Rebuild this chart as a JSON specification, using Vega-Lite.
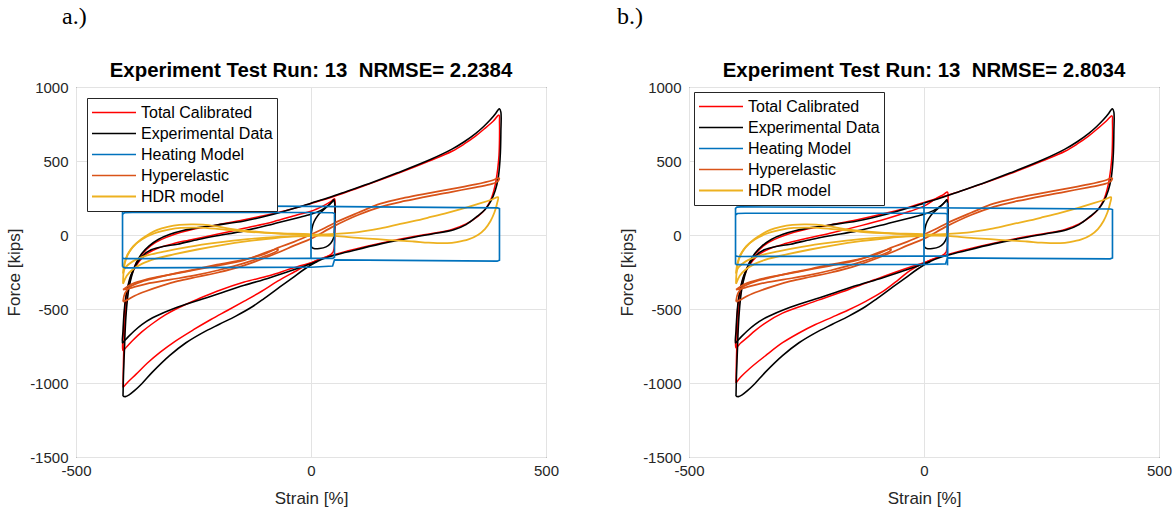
{
"$schema":"https://vega.github.io/schema/vega-lite/v6.json",
"background":"white",
"padding":{"left":5,"top":5,"right":5,"bottom":0},
"data":{"name":"d"},
"datasets":{"d":[
{"p":"a","s":"Total Calibrated","g":1,"x":-400,"y":-1030},{"p":"a","s":"Total Calibrated","g":1,"x":-399,"y":-850},{"p":"a","s":"Total Calibrated","g":1,"x":-397,"y":-660},{"p":"a","s":"Total Calibrated","g":1,"x":-394,"y":-500},{"p":"a","s":"Total Calibrated","g":1,"x":-389,"y":-370},{"p":"a","s":"Total Calibrated","g":1,"x":-382,"y":-270},{"p":"a","s":"Total Calibrated","g":1,"x":-372,"y":-190},{"p":"a","s":"Total Calibrated","g":1,"x":-358,"y":-125},{"p":"a","s":"Total Calibrated","g":1,"x":-340,"y":-70},{"p":"a","s":"Total Calibrated","g":1,"x":-318,"y":-30},{"p":"a","s":"Total Calibrated","g":1,"x":-290,"y":5},{"p":"a","s":"Total Calibrated","g":1,"x":-255,"y":35},{"p":"a","s":"Total Calibrated","g":1,"x":-200,"y":68},{"p":"a","s":"Total Calibrated","g":1,"x":-142,"y":103},{"p":"a","s":"Total Calibrated","g":1,"x":-80,"y":145},{"p":"a","s":"Total Calibrated","g":1,"x":-30,"y":185},{"p":"a","s":"Total Calibrated","g":1,"x":0,"y":213},{"p":"a","s":"Total Calibrated","g":1,"x":50,"y":262},{"p":"a","s":"Total Calibrated","g":1,"x":100,"y":318},{"p":"a","s":"Total Calibrated","g":1,"x":184,"y":415},{"p":"a","s":"Total Calibrated","g":1,"x":254,"y":503},{"p":"a","s":"Total Calibrated","g":1,"x":300,"y":566},{"p":"a","s":"Total Calibrated","g":1,"x":326,"y":615},{"p":"a","s":"Total Calibrated","g":1,"x":350,"y":668},{"p":"a","s":"Total Calibrated","g":1,"x":370,"y":720},{"p":"a","s":"Total Calibrated","g":1,"x":388,"y":770},{"p":"a","s":"Total Calibrated","g":1,"x":400,"y":810},{"p":"a","s":"Total Calibrated","g":1,"x":401,"y":760},{"p":"a","s":"Total Calibrated","g":1,"x":401,"y":640},{"p":"a","s":"Total Calibrated","g":1,"x":400,"y":540},{"p":"a","s":"Total Calibrated","g":1,"x":397,"y":440},{"p":"a","s":"Total Calibrated","g":1,"x":392,"y":340},{"p":"a","s":"Total Calibrated","g":1,"x":384,"y":250},{"p":"a","s":"Total Calibrated","g":1,"x":372,"y":180},{"p":"a","s":"Total Calibrated","g":1,"x":355,"y":125},{"p":"a","s":"Total Calibrated","g":1,"x":330,"y":75},{"p":"a","s":"Total Calibrated","g":1,"x":300,"y":38},{"p":"a","s":"Total Calibrated","g":1,"x":260,"y":12},{"p":"a","s":"Total Calibrated","g":1,"x":219,"y":-10},{"p":"a","s":"Total Calibrated","g":1,"x":148,"y":-55},{"p":"a","s":"Total Calibrated","g":1,"x":77,"y":-108},{"p":"a","s":"Total Calibrated","g":1,"x":30,"y":-150},{"p":"a","s":"Total Calibrated","g":1,"x":0,"y":-188},{"p":"a","s":"Total Calibrated","g":1,"x":-36,"y":-250},{"p":"a","s":"Total Calibrated","g":1,"x":-71,"y":-312},{"p":"a","s":"Total Calibrated","g":1,"x":-105,"y":-380},{"p":"a","s":"Total Calibrated","g":1,"x":-142,"y":-447},{"p":"a","s":"Total Calibrated","g":1,"x":-178,"y":-510},{"p":"a","s":"Total Calibrated","g":1,"x":-213,"y":-571},{"p":"a","s":"Total Calibrated","g":1,"x":-250,"y":-640},{"p":"a","s":"Total Calibrated","g":1,"x":-290,"y":-720},{"p":"a","s":"Total Calibrated","g":1,"x":-320,"y":-790},{"p":"a","s":"Total Calibrated","g":1,"x":-348,"y":-865},{"p":"a","s":"Total Calibrated","g":1,"x":-372,"y":-940},{"p":"a","s":"Total Calibrated","g":1,"x":-390,"y":-995},{"p":"a","s":"Total Calibrated","g":1,"x":-400,"y":-1030},
{"p":"a","s":"Total Calibrated","g":2,"x":0,"y":-188},{"p":"a","s":"Total Calibrated","g":2,"x":-40,"y":-225},{"p":"a","s":"Total Calibrated","g":2,"x":-89,"y":-275},{"p":"a","s":"Total Calibrated","g":2,"x":-142,"y":-318},{"p":"a","s":"Total Calibrated","g":2,"x":-200,"y":-380},{"p":"a","s":"Total Calibrated","g":2,"x":-240,"y":-432},{"p":"a","s":"Total Calibrated","g":2,"x":-284,"y":-495},{"p":"a","s":"Total Calibrated","g":2,"x":-310,"y":-540},{"p":"a","s":"Total Calibrated","g":2,"x":-337,"y":-598},{"p":"a","s":"Total Calibrated","g":2,"x":-360,"y":-655},{"p":"a","s":"Total Calibrated","g":2,"x":-380,"y":-715},{"p":"a","s":"Total Calibrated","g":2,"x":-392,"y":-755},{"p":"a","s":"Total Calibrated","g":2,"x":-400,"y":-780},{"p":"a","s":"Total Calibrated","g":2,"x":-399,"y":-650},{"p":"a","s":"Total Calibrated","g":2,"x":-397,"y":-520},{"p":"a","s":"Total Calibrated","g":2,"x":-393,"y":-410},{"p":"a","s":"Total Calibrated","g":2,"x":-387,"y":-320},{"p":"a","s":"Total Calibrated","g":2,"x":-378,"y":-240},{"p":"a","s":"Total Calibrated","g":2,"x":-365,"y":-175},{"p":"a","s":"Total Calibrated","g":2,"x":-348,"y":-125},{"p":"a","s":"Total Calibrated","g":2,"x":-325,"y":-88},{"p":"a","s":"Total Calibrated","g":2,"x":-295,"y":-60},{"p":"a","s":"Total Calibrated","g":2,"x":-260,"y":-35},{"p":"a","s":"Total Calibrated","g":2,"x":-200,"y":5},{"p":"a","s":"Total Calibrated","g":2,"x":-142,"y":45},{"p":"a","s":"Total Calibrated","g":2,"x":-80,"y":90},{"p":"a","s":"Total Calibrated","g":2,"x":-30,"y":135},{"p":"a","s":"Total Calibrated","g":2,"x":0,"y":160},{"p":"a","s":"Total Calibrated","g":2,"x":25,"y":195},{"p":"a","s":"Total Calibrated","g":2,"x":42,"y":225},{"p":"a","s":"Total Calibrated","g":2,"x":50,"y":245},{"p":"a","s":"Total Calibrated","g":2,"x":51,"y":180},{"p":"a","s":"Total Calibrated","g":2,"x":51,"y":60},{"p":"a","s":"Total Calibrated","g":2,"x":50,"y":-60},{"p":"a","s":"Total Calibrated","g":2,"x":47,"y":-115},{"p":"a","s":"Total Calibrated","g":2,"x":35,"y":-145},{"p":"a","s":"Total Calibrated","g":2,"x":15,"y":-168},{"p":"a","s":"Total Calibrated","g":2,"x":0,"y":-188},
{"p":"b","s":"Total Calibrated","g":1,"x":-400,"y":-1000},{"p":"b","s":"Total Calibrated","g":1,"x":-399,"y":-830},{"p":"b","s":"Total Calibrated","g":1,"x":-397,"y":-650},{"p":"b","s":"Total Calibrated","g":1,"x":-394,"y":-500},{"p":"b","s":"Total Calibrated","g":1,"x":-389,"y":-370},{"p":"b","s":"Total Calibrated","g":1,"x":-382,"y":-270},{"p":"b","s":"Total Calibrated","g":1,"x":-372,"y":-190},{"p":"b","s":"Total Calibrated","g":1,"x":-358,"y":-125},{"p":"b","s":"Total Calibrated","g":1,"x":-340,"y":-70},{"p":"b","s":"Total Calibrated","g":1,"x":-318,"y":-30},{"p":"b","s":"Total Calibrated","g":1,"x":-290,"y":5},{"p":"b","s":"Total Calibrated","g":1,"x":-255,"y":35},{"p":"b","s":"Total Calibrated","g":1,"x":-200,"y":68},{"p":"b","s":"Total Calibrated","g":1,"x":-142,"y":103},{"p":"b","s":"Total Calibrated","g":1,"x":-80,"y":148},{"p":"b","s":"Total Calibrated","g":1,"x":-30,"y":190},{"p":"b","s":"Total Calibrated","g":1,"x":0,"y":220},{"p":"b","s":"Total Calibrated","g":1,"x":50,"y":268},{"p":"b","s":"Total Calibrated","g":1,"x":100,"y":320},{"p":"b","s":"Total Calibrated","g":1,"x":184,"y":415},{"p":"b","s":"Total Calibrated","g":1,"x":254,"y":503},{"p":"b","s":"Total Calibrated","g":1,"x":300,"y":566},{"p":"b","s":"Total Calibrated","g":1,"x":326,"y":615},{"p":"b","s":"Total Calibrated","g":1,"x":350,"y":668},{"p":"b","s":"Total Calibrated","g":1,"x":370,"y":720},{"p":"b","s":"Total Calibrated","g":1,"x":388,"y":770},{"p":"b","s":"Total Calibrated","g":1,"x":400,"y":805},{"p":"b","s":"Total Calibrated","g":1,"x":401,"y":760},{"p":"b","s":"Total Calibrated","g":1,"x":401,"y":640},{"p":"b","s":"Total Calibrated","g":1,"x":400,"y":540},{"p":"b","s":"Total Calibrated","g":1,"x":397,"y":440},{"p":"b","s":"Total Calibrated","g":1,"x":392,"y":340},{"p":"b","s":"Total Calibrated","g":1,"x":384,"y":250},{"p":"b","s":"Total Calibrated","g":1,"x":372,"y":180},{"p":"b","s":"Total Calibrated","g":1,"x":355,"y":125},{"p":"b","s":"Total Calibrated","g":1,"x":330,"y":75},{"p":"b","s":"Total Calibrated","g":1,"x":300,"y":38},{"p":"b","s":"Total Calibrated","g":1,"x":260,"y":12},{"p":"b","s":"Total Calibrated","g":1,"x":219,"y":-10},{"p":"b","s":"Total Calibrated","g":1,"x":148,"y":-55},{"p":"b","s":"Total Calibrated","g":1,"x":77,"y":-108},{"p":"b","s":"Total Calibrated","g":1,"x":30,"y":-150},{"p":"b","s":"Total Calibrated","g":1,"x":0,"y":-188},{"p":"b","s":"Total Calibrated","g":1,"x":-30,"y":-240},{"p":"b","s":"Total Calibrated","g":1,"x":-54,"y":-301},{"p":"b","s":"Total Calibrated","g":1,"x":-89,"y":-385},{"p":"b","s":"Total Calibrated","g":1,"x":-125,"y":-450},{"p":"b","s":"Total Calibrated","g":1,"x":-160,"y":-505},{"p":"b","s":"Total Calibrated","g":1,"x":-195,"y":-555},{"p":"b","s":"Total Calibrated","g":1,"x":-231,"y":-605},{"p":"b","s":"Total Calibrated","g":1,"x":-266,"y":-662},{"p":"b","s":"Total Calibrated","g":1,"x":-301,"y":-728},{"p":"b","s":"Total Calibrated","g":1,"x":-337,"y":-815},{"p":"b","s":"Total Calibrated","g":1,"x":-372,"y":-905},{"p":"b","s":"Total Calibrated","g":1,"x":-390,"y":-960},{"p":"b","s":"Total Calibrated","g":1,"x":-400,"y":-1000},
{"p":"b","s":"Total Calibrated","g":2,"x":0,"y":-188},{"p":"b","s":"Total Calibrated","g":2,"x":-40,"y":-228},{"p":"b","s":"Total Calibrated","g":2,"x":-104,"y":-301},{"p":"b","s":"Total Calibrated","g":2,"x":-160,"y":-368},{"p":"b","s":"Total Calibrated","g":2,"x":-231,"y":-447},{"p":"b","s":"Total Calibrated","g":2,"x":-301,"y":-528},{"p":"b","s":"Total Calibrated","g":2,"x":-337,"y":-593},{"p":"b","s":"Total Calibrated","g":2,"x":-360,"y":-648},{"p":"b","s":"Total Calibrated","g":2,"x":-375,"y":-690},{"p":"b","s":"Total Calibrated","g":2,"x":-390,"y":-730},{"p":"b","s":"Total Calibrated","g":2,"x":-400,"y":-762},{"p":"b","s":"Total Calibrated","g":2,"x":-399,"y":-640},{"p":"b","s":"Total Calibrated","g":2,"x":-397,"y":-515},{"p":"b","s":"Total Calibrated","g":2,"x":-393,"y":-405},{"p":"b","s":"Total Calibrated","g":2,"x":-387,"y":-318},{"p":"b","s":"Total Calibrated","g":2,"x":-378,"y":-240},{"p":"b","s":"Total Calibrated","g":2,"x":-365,"y":-175},{"p":"b","s":"Total Calibrated","g":2,"x":-348,"y":-125},{"p":"b","s":"Total Calibrated","g":2,"x":-325,"y":-88},{"p":"b","s":"Total Calibrated","g":2,"x":-295,"y":-58},{"p":"b","s":"Total Calibrated","g":2,"x":-260,"y":-30},{"p":"b","s":"Total Calibrated","g":2,"x":-200,"y":12},{"p":"b","s":"Total Calibrated","g":2,"x":-132,"y":65},{"p":"b","s":"Total Calibrated","g":2,"x":-80,"y":110},{"p":"b","s":"Total Calibrated","g":2,"x":-30,"y":160},{"p":"b","s":"Total Calibrated","g":2,"x":0,"y":195},{"p":"b","s":"Total Calibrated","g":2,"x":25,"y":245},{"p":"b","s":"Total Calibrated","g":2,"x":42,"y":275},{"p":"b","s":"Total Calibrated","g":2,"x":50,"y":290},{"p":"b","s":"Total Calibrated","g":2,"x":51,"y":220},{"p":"b","s":"Total Calibrated","g":2,"x":51,"y":80},{"p":"b","s":"Total Calibrated","g":2,"x":50,"y":-60},{"p":"b","s":"Total Calibrated","g":2,"x":47,"y":-115},{"p":"b","s":"Total Calibrated","g":2,"x":35,"y":-145},{"p":"b","s":"Total Calibrated","g":2,"x":15,"y":-168},{"p":"b","s":"Total Calibrated","g":2,"x":0,"y":-188},
{"p":"ab","s":"Experimental Data","g":1,"x":-400,"y":-1090},{"p":"ab","s":"Experimental Data","g":1,"x":-399,"y":-950},{"p":"ab","s":"Experimental Data","g":1,"x":-397,"y":-780},{"p":"ab","s":"Experimental Data","g":1,"x":-395,"y":-620},{"p":"ab","s":"Experimental Data","g":1,"x":-392,"y":-480},{"p":"ab","s":"Experimental Data","g":1,"x":-388,"y":-370},{"p":"ab","s":"Experimental Data","g":1,"x":-381,"y":-270},{"p":"ab","s":"Experimental Data","g":1,"x":-372,"y":-190},{"p":"ab","s":"Experimental Data","g":1,"x":-360,"y":-125},{"p":"ab","s":"Experimental Data","g":1,"x":-345,"y":-75},{"p":"ab","s":"Experimental Data","g":1,"x":-325,"y":-30},{"p":"ab","s":"Experimental Data","g":1,"x":-300,"y":5},{"p":"ab","s":"Experimental Data","g":1,"x":-270,"y":32},{"p":"ab","s":"Experimental Data","g":1,"x":-240,"y":50},{"p":"ab","s":"Experimental Data","g":1,"x":-200,"y":68},{"p":"ab","s":"Experimental Data","g":1,"x":-142,"y":95},{"p":"ab","s":"Experimental Data","g":1,"x":-80,"y":140},{"p":"ab","s":"Experimental Data","g":1,"x":-30,"y":185},{"p":"ab","s":"Experimental Data","g":1,"x":0,"y":215},{"p":"ab","s":"Experimental Data","g":1,"x":40,"y":255},{"p":"ab","s":"Experimental Data","g":1,"x":77,"y":296},{"p":"ab","s":"Experimental Data","g":1,"x":130,"y":355},{"p":"ab","s":"Experimental Data","g":1,"x":184,"y":420},{"p":"ab","s":"Experimental Data","g":1,"x":254,"y":510},{"p":"ab","s":"Experimental Data","g":1,"x":300,"y":580},{"p":"ab","s":"Experimental Data","g":1,"x":326,"y":630},{"p":"ab","s":"Experimental Data","g":1,"x":350,"y":685},{"p":"ab","s":"Experimental Data","g":1,"x":368,"y":735},{"p":"ab","s":"Experimental Data","g":1,"x":382,"y":780},{"p":"ab","s":"Experimental Data","g":1,"x":392,"y":818},{"p":"ab","s":"Experimental Data","g":1,"x":398,"y":845},{"p":"ab","s":"Experimental Data","g":1,"x":401,"y":853},{"p":"ab","s":"Experimental Data","g":1,"x":404,"y":830},{"p":"ab","s":"Experimental Data","g":1,"x":404,"y":700},{"p":"ab","s":"Experimental Data","g":1,"x":403,"y":560},{"p":"ab","s":"Experimental Data","g":1,"x":401,"y":460},{"p":"ab","s":"Experimental Data","g":1,"x":398,"y":380},{"p":"ab","s":"Experimental Data","g":1,"x":392,"y":300},{"p":"ab","s":"Experimental Data","g":1,"x":383,"y":230},{"p":"ab","s":"Experimental Data","g":1,"x":370,"y":170},{"p":"ab","s":"Experimental Data","g":1,"x":354,"y":127},{"p":"ab","s":"Experimental Data","g":1,"x":330,"y":70},{"p":"ab","s":"Experimental Data","g":1,"x":304,"y":35},{"p":"ab","s":"Experimental Data","g":1,"x":260,"y":8},{"p":"ab","s":"Experimental Data","g":1,"x":219,"y":-15},{"p":"ab","s":"Experimental Data","g":1,"x":148,"y":-60},{"p":"ab","s":"Experimental Data","g":1,"x":77,"y":-115},{"p":"ab","s":"Experimental Data","g":1,"x":40,"y":-145},{"p":"ab","s":"Experimental Data","g":1,"x":14,"y":-177},{"p":"ab","s":"Experimental Data","g":1,"x":-15,"y":-233},{"p":"ab","s":"Experimental Data","g":1,"x":-40,"y":-292},{"p":"ab","s":"Experimental Data","g":1,"x":-71,"y":-362},{"p":"ab","s":"Experimental Data","g":1,"x":-100,"y":-430},{"p":"ab","s":"Experimental Data","g":1,"x":-125,"y":-485},{"p":"ab","s":"Experimental Data","g":1,"x":-160,"y":-548},{"p":"ab","s":"Experimental Data","g":1,"x":-195,"y":-603},{"p":"ab","s":"Experimental Data","g":1,"x":-231,"y":-661},{"p":"ab","s":"Experimental Data","g":1,"x":-266,"y":-728},{"p":"ab","s":"Experimental Data","g":1,"x":-301,"y":-815},{"p":"ab","s":"Experimental Data","g":1,"x":-337,"y":-925},{"p":"ab","s":"Experimental Data","g":1,"x":-360,"y":-1005},{"p":"ab","s":"Experimental Data","g":1,"x":-375,"y":-1050},{"p":"ab","s":"Experimental Data","g":1,"x":-387,"y":-1080},{"p":"ab","s":"Experimental Data","g":1,"x":-395,"y":-1092},{"p":"ab","s":"Experimental Data","g":1,"x":-400,"y":-1090},
{"p":"ab","s":"Experimental Data","g":2,"x":14,"y":-177},{"p":"ab","s":"Experimental Data","g":2,"x":-10,"y":-205},{"p":"ab","s":"Experimental Data","g":2,"x":-40,"y":-238},{"p":"ab","s":"Experimental Data","g":2,"x":-89,"y":-290},{"p":"ab","s":"Experimental Data","g":2,"x":-142,"y":-340},{"p":"ab","s":"Experimental Data","g":2,"x":-195,"y":-395},{"p":"ab","s":"Experimental Data","g":2,"x":-231,"y":-433},{"p":"ab","s":"Experimental Data","g":2,"x":-266,"y":-468},{"p":"ab","s":"Experimental Data","g":2,"x":-301,"y":-508},{"p":"ab","s":"Experimental Data","g":2,"x":-337,"y":-559},{"p":"ab","s":"Experimental Data","g":2,"x":-360,"y":-605},{"p":"ab","s":"Experimental Data","g":2,"x":-375,"y":-645},{"p":"ab","s":"Experimental Data","g":2,"x":-388,"y":-685},{"p":"ab","s":"Experimental Data","g":2,"x":-397,"y":-715},{"p":"ab","s":"Experimental Data","g":2,"x":-401,"y":-729},{"p":"ab","s":"Experimental Data","g":2,"x":-400,"y":-650},{"p":"ab","s":"Experimental Data","g":2,"x":-398,"y":-540},{"p":"ab","s":"Experimental Data","g":2,"x":-395,"y":-440},{"p":"ab","s":"Experimental Data","g":2,"x":-390,"y":-350},{"p":"ab","s":"Experimental Data","g":2,"x":-383,"y":-270},{"p":"ab","s":"Experimental Data","g":2,"x":-372,"y":-200},{"p":"ab","s":"Experimental Data","g":2,"x":-358,"y":-140},{"p":"ab","s":"Experimental Data","g":2,"x":-340,"y":-100},{"p":"ab","s":"Experimental Data","g":2,"x":-315,"y":-78},{"p":"ab","s":"Experimental Data","g":2,"x":-284,"y":-62},{"p":"ab","s":"Experimental Data","g":2,"x":-240,"y":-30},{"p":"ab","s":"Experimental Data","g":2,"x":-200,"y":-5},{"p":"ab","s":"Experimental Data","g":2,"x":-142,"y":28},{"p":"ab","s":"Experimental Data","g":2,"x":-80,"y":75},{"p":"ab","s":"Experimental Data","g":2,"x":-30,"y":115},{"p":"ab","s":"Experimental Data","g":2,"x":0,"y":140},{"p":"ab","s":"Experimental Data","g":2,"x":20,"y":165},{"p":"ab","s":"Experimental Data","g":2,"x":35,"y":195},{"p":"ab","s":"Experimental Data","g":2,"x":45,"y":225},{"p":"ab","s":"Experimental Data","g":2,"x":49,"y":240},
{"p":"ab","s":"Experimental Data","g":3,"x":49,"y":240},{"p":"ab","s":"Experimental Data","g":3,"x":51,"y":200},{"p":"ab","s":"Experimental Data","g":3,"x":51,"y":120},{"p":"ab","s":"Experimental Data","g":3,"x":50,"y":40},{"p":"ab","s":"Experimental Data","g":3,"x":48,"y":-20},{"p":"ab","s":"Experimental Data","g":3,"x":42,"y":-55},{"p":"ab","s":"Experimental Data","g":3,"x":32,"y":-80},{"p":"ab","s":"Experimental Data","g":3,"x":18,"y":-91},{"p":"ab","s":"Experimental Data","g":3,"x":6,"y":-91},{"p":"ab","s":"Experimental Data","g":3,"x":1,"y":-80},{"p":"ab","s":"Experimental Data","g":3,"x":0,"y":-40},{"p":"ab","s":"Experimental Data","g":3,"x":1,"y":20},{"p":"ab","s":"Experimental Data","g":3,"x":4,"y":70},{"p":"ab","s":"Experimental Data","g":3,"x":10,"y":110},{"p":"ab","s":"Experimental Data","g":3,"x":18,"y":145},{"p":"ab","s":"Experimental Data","g":3,"x":30,"y":180},{"p":"ab","s":"Experimental Data","g":3,"x":42,"y":215},{"p":"ab","s":"Experimental Data","g":3,"x":49,"y":240},
{"p":"a","s":"Heating Model","g":1,"x":-401,"y":-215},{"p":"a","s":"Heating Model","g":1,"x":-401,"y":140},{"p":"a","s":"Heating Model","g":1,"x":-397,"y":150},{"p":"a","s":"Heating Model","g":1,"x":-380,"y":152},{"p":"a","s":"Heating Model","g":1,"x":0,"y":152},{"p":"a","s":"Heating Model","g":1,"x":46,"y":150},{"p":"a","s":"Heating Model","g":1,"x":50,"y":145},{"p":"a","s":"Heating Model","g":1,"x":50,"y":-150},{"p":"a","s":"Heating Model","g":1,"x":46,"y":-158},{"p":"a","s":"Heating Model","g":1,"x":0,"y":-158},{"p":"a","s":"Heating Model","g":1,"x":-396,"y":-160},{"p":"a","s":"Heating Model","g":1,"x":-401,"y":-155},{"p":"a","s":"Heating Model","g":1,"x":-401,"y":180},{"p":"a","s":"Heating Model","g":1,"x":-398,"y":195},{"p":"a","s":"Heating Model","g":1,"x":-390,"y":200},{"p":"a","s":"Heating Model","g":1,"x":0,"y":193},{"p":"a","s":"Heating Model","g":1,"x":397,"y":183},{"p":"a","s":"Heating Model","g":1,"x":401,"y":178},{"p":"a","s":"Heating Model","g":1,"x":401,"y":-170},{"p":"a","s":"Heating Model","g":1,"x":396,"y":-177},{"p":"a","s":"Heating Model","g":1,"x":50,"y":-168},{"p":"a","s":"Heating Model","g":1,"x":46,"y":-210},{"p":"a","s":"Heating Model","g":1,"x":0,"y":-218},{"p":"a","s":"Heating Model","g":1,"x":-396,"y":-222},{"p":"a","s":"Heating Model","g":1,"x":-401,"y":-215},
{"p":"a","s":"Heating Model","g":2,"x":0,"y":-158},{"p":"a","s":"Heating Model","g":2,"x":0,"y":152},
{"p":"b","s":"Heating Model","g":1,"x":-401,"y":-199},{"p":"b","s":"Heating Model","g":1,"x":-401,"y":135},{"p":"b","s":"Heating Model","g":1,"x":-397,"y":145},{"p":"b","s":"Heating Model","g":1,"x":-380,"y":147},{"p":"b","s":"Heating Model","g":1,"x":0,"y":147},{"p":"b","s":"Heating Model","g":1,"x":46,"y":145},{"p":"b","s":"Heating Model","g":1,"x":50,"y":140},{"p":"b","s":"Heating Model","g":1,"x":50,"y":-138},{"p":"b","s":"Heating Model","g":1,"x":46,"y":-143},{"p":"b","s":"Heating Model","g":1,"x":0,"y":-143},{"p":"b","s":"Heating Model","g":1,"x":-396,"y":-145},{"p":"b","s":"Heating Model","g":1,"x":-401,"y":-140},{"p":"b","s":"Heating Model","g":1,"x":-401,"y":180},{"p":"b","s":"Heating Model","g":1,"x":-398,"y":188},{"p":"b","s":"Heating Model","g":1,"x":-390,"y":190},{"p":"b","s":"Heating Model","g":1,"x":0,"y":184},{"p":"b","s":"Heating Model","g":1,"x":397,"y":176},{"p":"b","s":"Heating Model","g":1,"x":401,"y":172},{"p":"b","s":"Heating Model","g":1,"x":401,"y":-155},{"p":"b","s":"Heating Model","g":1,"x":396,"y":-161},{"p":"b","s":"Heating Model","g":1,"x":50,"y":-155},{"p":"b","s":"Heating Model","g":1,"x":46,"y":-195},{"p":"b","s":"Heating Model","g":1,"x":0,"y":-199},{"p":"b","s":"Heating Model","g":1,"x":-396,"y":-200},{"p":"b","s":"Heating Model","g":1,"x":-401,"y":-199},
{"p":"b","s":"Heating Model","g":2,"x":0,"y":-205},{"p":"b","s":"Heating Model","g":2,"x":0,"y":218},
{"p":"b","s":"Heating Model","g":3,"x":50,"y":-205},{"p":"b","s":"Heating Model","g":3,"x":50,"y":218},
{"p":"ab","s":"Hyperelastic","g":1,"x":-400,"y":-450},{"p":"ab","s":"Hyperelastic","g":1,"x":-396,"y":-395},{"p":"ab","s":"Hyperelastic","g":1,"x":-385,"y":-350},{"p":"ab","s":"Hyperelastic","g":1,"x":-360,"y":-315},{"p":"ab","s":"Hyperelastic","g":1,"x":-330,"y":-290},{"p":"ab","s":"Hyperelastic","g":1,"x":-284,"y":-256},{"p":"ab","s":"Hyperelastic","g":1,"x":-240,"y":-228},{"p":"ab","s":"Hyperelastic","g":1,"x":-200,"y":-200},{"p":"ab","s":"Hyperelastic","g":1,"x":-142,"y":-166},{"p":"ab","s":"Hyperelastic","g":1,"x":-100,"y":-130},{"p":"ab","s":"Hyperelastic","g":1,"x":-71,"y":-87},{"p":"ab","s":"Hyperelastic","g":1,"x":-35,"y":-45},{"p":"ab","s":"Hyperelastic","g":1,"x":0,"y":3},{"p":"ab","s":"Hyperelastic","g":1,"x":25,"y":40},{"p":"ab","s":"Hyperelastic","g":1,"x":49,"y":80},{"p":"ab","s":"Hyperelastic","g":1,"x":100,"y":150},{"p":"ab","s":"Hyperelastic","g":1,"x":148,"y":212},{"p":"ab","s":"Hyperelastic","g":1,"x":200,"y":252},{"p":"ab","s":"Hyperelastic","g":1,"x":254,"y":285},{"p":"ab","s":"Hyperelastic","g":1,"x":300,"y":312},{"p":"ab","s":"Hyperelastic","g":1,"x":350,"y":342},{"p":"ab","s":"Hyperelastic","g":1,"x":385,"y":368},{"p":"ab","s":"Hyperelastic","g":1,"x":400,"y":385},{"p":"ab","s":"Hyperelastic","g":1,"x":398,"y":365},{"p":"ab","s":"Hyperelastic","g":1,"x":385,"y":345},{"p":"ab","s":"Hyperelastic","g":1,"x":350,"y":322},{"p":"ab","s":"Hyperelastic","g":1,"x":300,"y":292},{"p":"ab","s":"Hyperelastic","g":1,"x":254,"y":265},{"p":"ab","s":"Hyperelastic","g":1,"x":200,"y":230},{"p":"ab","s":"Hyperelastic","g":1,"x":148,"y":190},{"p":"ab","s":"Hyperelastic","g":1,"x":100,"y":135},{"p":"ab","s":"Hyperelastic","g":1,"x":49,"y":60},{"p":"ab","s":"Hyperelastic","g":1,"x":0,"y":-25},{"p":"ab","s":"Hyperelastic","g":1,"x":-35,"y":-70},{"p":"ab","s":"Hyperelastic","g":1,"x":-71,"y":-120},{"p":"ab","s":"Hyperelastic","g":1,"x":-142,"y":-205},{"p":"ab","s":"Hyperelastic","g":1,"x":-200,"y":-255},{"p":"ab","s":"Hyperelastic","g":1,"x":-240,"y":-282},{"p":"ab","s":"Hyperelastic","g":1,"x":-284,"y":-312},{"p":"ab","s":"Hyperelastic","g":1,"x":-320,"y":-345},{"p":"ab","s":"Hyperelastic","g":1,"x":-350,"y":-378},{"p":"ab","s":"Hyperelastic","g":1,"x":-375,"y":-410},{"p":"ab","s":"Hyperelastic","g":1,"x":-392,"y":-440},{"p":"ab","s":"Hyperelastic","g":1,"x":-400,"y":-450},
{"p":"ab","s":"Hyperelastic","g":2,"x":-400,"y":-370},{"p":"ab","s":"Hyperelastic","g":2,"x":-380,"y":-330},{"p":"ab","s":"Hyperelastic","g":2,"x":-350,"y":-300},{"p":"ab","s":"Hyperelastic","g":2,"x":-300,"y":-268},{"p":"ab","s":"Hyperelastic","g":2,"x":-250,"y":-238},{"p":"ab","s":"Hyperelastic","g":2,"x":-200,"y":-208},{"p":"ab","s":"Hyperelastic","g":2,"x":-142,"y":-170},{"p":"ab","s":"Hyperelastic","g":2,"x":-71,"y":-95},{"p":"ab","s":"Hyperelastic","g":2,"x":-71,"y":-105},{"p":"ab","s":"Hyperelastic","g":2,"x":-142,"y":-190},{"p":"ab","s":"Hyperelastic","g":2,"x":-200,"y":-240},{"p":"ab","s":"Hyperelastic","g":2,"x":-250,"y":-275},{"p":"ab","s":"Hyperelastic","g":2,"x":-300,"y":-302},{"p":"ab","s":"Hyperelastic","g":2,"x":-350,"y":-330},{"p":"ab","s":"Hyperelastic","g":2,"x":-380,"y":-355},{"p":"ab","s":"Hyperelastic","g":2,"x":-400,"y":-370},
{"p":"ab","s":"HDR model","g":1,"x":-400,"y":-330},{"p":"ab","s":"HDR model","g":1,"x":-399,"y":-260},{"p":"ab","s":"HDR model","g":1,"x":-396,"y":-190},{"p":"ab","s":"HDR model","g":1,"x":-390,"y":-135},{"p":"ab","s":"HDR model","g":1,"x":-380,"y":-85},{"p":"ab","s":"HDR model","g":1,"x":-362,"y":-30},{"p":"ab","s":"HDR model","g":1,"x":-345,"y":5},{"p":"ab","s":"HDR model","g":1,"x":-327,"y":35},{"p":"ab","s":"HDR model","g":1,"x":-305,"y":55},{"p":"ab","s":"HDR model","g":1,"x":-280,"y":68},{"p":"ab","s":"HDR model","g":1,"x":-255,"y":72},{"p":"ab","s":"HDR model","g":1,"x":-230,"y":70},{"p":"ab","s":"HDR model","g":1,"x":-200,"y":58},{"p":"ab","s":"HDR model","g":1,"x":-171,"y":42},{"p":"ab","s":"HDR model","g":1,"x":-135,"y":28},{"p":"ab","s":"HDR model","g":1,"x":-100,"y":18},{"p":"ab","s":"HDR model","g":1,"x":-50,"y":8},{"p":"ab","s":"HDR model","g":1,"x":0,"y":2},{"p":"ab","s":"HDR model","g":1,"x":40,"y":5},{"p":"ab","s":"HDR model","g":1,"x":77,"y":12},{"p":"ab","s":"HDR model","g":1,"x":110,"y":25},{"p":"ab","s":"HDR model","g":1,"x":148,"y":45},{"p":"ab","s":"HDR model","g":1,"x":190,"y":75},{"p":"ab","s":"HDR model","g":1,"x":220,"y":95},{"p":"ab","s":"HDR model","g":1,"x":255,"y":122},{"p":"ab","s":"HDR model","g":1,"x":290,"y":150},{"p":"ab","s":"HDR model","g":1,"x":330,"y":185},{"p":"ab","s":"HDR model","g":1,"x":361,"y":215},{"p":"ab","s":"HDR model","g":1,"x":385,"y":240},{"p":"ab","s":"HDR model","g":1,"x":398,"y":255},{"p":"ab","s":"HDR model","g":1,"x":396,"y":215},{"p":"ab","s":"HDR model","g":1,"x":390,"y":150},{"p":"ab","s":"HDR model","g":1,"x":382,"y":95},{"p":"ab","s":"HDR model","g":1,"x":370,"y":40},{"p":"ab","s":"HDR model","g":1,"x":355,"y":0},{"p":"ab","s":"HDR model","g":1,"x":335,"y":-30},{"p":"ab","s":"HDR model","g":1,"x":310,"y":-48},{"p":"ab","s":"HDR model","g":1,"x":290,"y":-55},{"p":"ab","s":"HDR model","g":1,"x":250,"y":-52},{"p":"ab","s":"HDR model","g":1,"x":219,"y":-44},{"p":"ab","s":"HDR model","g":1,"x":180,"y":-37},{"p":"ab","s":"HDR model","g":1,"x":148,"y":-30},{"p":"ab","s":"HDR model","g":1,"x":100,"y":-20},{"p":"ab","s":"HDR model","g":1,"x":50,"y":-6},{"p":"ab","s":"HDR model","g":1,"x":0,"y":-5},{"p":"ab","s":"HDR model","g":1,"x":-29,"y":-8},{"p":"ab","s":"HDR model","g":1,"x":-80,"y":-22},{"p":"ab","s":"HDR model","g":1,"x":-135,"y":-42},{"p":"ab","s":"HDR model","g":1,"x":-190,"y":-68},{"p":"ab","s":"HDR model","g":1,"x":-242,"y":-98},{"p":"ab","s":"HDR model","g":1,"x":-290,"y":-130},{"p":"ab","s":"HDR model","g":1,"x":-330,"y":-160},{"p":"ab","s":"HDR model","g":1,"x":-360,"y":-195},{"p":"ab","s":"HDR model","g":1,"x":-380,"y":-235},{"p":"ab","s":"HDR model","g":1,"x":-392,"y":-275},{"p":"ab","s":"HDR model","g":1,"x":-400,"y":-330},
{"p":"ab","s":"HDR model","g":2,"x":-400,"y":-260},{"p":"ab","s":"HDR model","g":2,"x":-397,"y":-190},{"p":"ab","s":"HDR model","g":2,"x":-390,"y":-130},{"p":"ab","s":"HDR model","g":2,"x":-378,"y":-75},{"p":"ab","s":"HDR model","g":2,"x":-360,"y":-30},{"p":"ab","s":"HDR model","g":2,"x":-334,"y":10},{"p":"ab","s":"HDR model","g":2,"x":-300,"y":38},{"p":"ab","s":"HDR model","g":2,"x":-277,"y":48},{"p":"ab","s":"HDR model","g":2,"x":-240,"y":50},{"p":"ab","s":"HDR model","g":2,"x":-200,"y":42},{"p":"ab","s":"HDR model","g":2,"x":-135,"y":22},{"p":"ab","s":"HDR model","g":2,"x":-70,"y":10},{"p":"ab","s":"HDR model","g":2,"x":0,"y":2},{"p":"ab","s":"HDR model","g":2,"x":0,"y":-3},{"p":"ab","s":"HDR model","g":2,"x":-70,"y":-12},{"p":"ab","s":"HDR model","g":2,"x":-135,"y":-28},{"p":"ab","s":"HDR model","g":2,"x":-200,"y":-52},{"p":"ab","s":"HDR model","g":2,"x":-260,"y":-80},{"p":"ab","s":"HDR model","g":2,"x":-310,"y":-110},{"p":"ab","s":"HDR model","g":2,"x":-350,"y":-140},{"p":"ab","s":"HDR model","g":2,"x":-380,"y":-180},{"p":"ab","s":"HDR model","g":2,"x":-395,"y":-220},{"p":"ab","s":"HDR model","g":2,"x":-400,"y":-260}
]},
"config":{
"view":{"stroke":"#262626","strokeWidth":1},
"font":"Liberation Sans",
"axis":{"domain":false,"ticks":false,"grid":true,"gridColor":"#e3e3e3","gridWidth":1,"labelFont":"Liberation Sans","labelFontSize":15,"labelColor":"#262626","titleFont":"Liberation Sans","titleFontSize":17,"titleFontWeight":"normal","titleColor":"#262626","labelOverlap":false},
"title":{"font":"Liberation Sans","fontSize":20.4,"fontWeight":"bold","color":"#000000","offset":-1,"frame":"group"},
"concat":{"spacing":57}
},
"spacing":57,
"hconcat":[
{"title":{"text":"a.)","anchor":"start","frame":"group","font":"Liberation Serif","fontSize":24,"fontWeight":"normal","color":"#000000","dx":-14,"offset":31},
 "hconcat":[{
 "width":470,"height":370,
 "title":"Experiment Test Run: 13\u00a0 NRMSE= 2.2384",
 "transform":[{"filter":"indexof(datum.p,'a')>=0"}],
 "encoding":{
  "x":{"field":"x","type":"quantitative","scale":{"domain":[-500,500],"nice":false,"zero":false},"axis":{"values":[-500,0,500],"title":"Strain [%]","labelFlush":false,"labelPadding":6,"titlePadding":12,"labelExpr":"toString(datum.value)"}},
  "y":{"field":"y","type":"quantitative","scale":{"domain":[-1500,1000],"nice":false,"zero":false},"axis":{"values":[-1500,-1000,-500,0,500,1000],"title":"Force [kips]","labelPadding":8,"titlePadding":6,"labelExpr":"toString(datum.value)"}},
  "color":{"field":"s","type":"nominal","scale":{"domain":["Total Calibrated","Experimental Data","Heating Model","Hyperelastic","HDR model"],"range":["#FF0000","#000000","#0072BD","#D95319","#EDB120"]},
   "legend":{"title":null,"orient":"top-left","offset":11,"fillColor":"white","strokeColor":"#262626","padding":4,"symbolType":"stroke","symbolSize":1936,"symbolStrokeWidth":1.8,"labelFont":"Liberation Sans","labelFontSize":16,"labelColor":"#000000","clipHeight":21,"rowPadding":0,"labelLimit":400,"labelOffset":4}},
  "strokeWidth":{"field":"s","type":"nominal","scale":{"domain":["Total Calibrated","Experimental Data","Heating Model","Hyperelastic","HDR model"],"range":[1.5,1.8,1.2,1.2,1.3]},"legend":null},
  "detail":{"field":"g"},
  "order":{"value":null}
 },
 "layer":[
  {"transform":[{"filter":"datum.s!='Heating Model'"}],"mark":{"type":"line","interpolate":"catmull-rom","clip":true}},
  {"transform":[{"filter":"datum.s=='Heating Model'"}],"mark":{"type":"line","interpolate":"linear","clip":true}}
 ]
 }],
 "resolve":{"scale":{"color":"independent","strokeWidth":"independent"},"legend":{"color":"independent"}}
},
{"title":{"text":"b.)","anchor":"start","frame":"group","font":"Liberation Serif","fontSize":24,"fontWeight":"normal","color":"#000000","dx":-72,"offset":31},
 "hconcat":[{
 "width":470,"height":370,
 "title":"Experiment Test Run: 13\u00a0 NRMSE= 2.8034",
 "transform":[{"filter":"indexof(datum.p,'b')>=0"}],
 "encoding":{
  "x":{"field":"x","type":"quantitative","scale":{"domain":[-500,500],"nice":false,"zero":false},"axis":{"values":[-500,0,500],"title":"Strain [%]","labelFlush":false,"labelPadding":6,"titlePadding":12,"labelExpr":"toString(datum.value)"}},
  "y":{"field":"y","type":"quantitative","scale":{"domain":[-1500,1000],"nice":false,"zero":false},"axis":{"values":[-1500,-1000,-500,0,500,1000],"title":"Force [kips]","labelPadding":8,"titlePadding":6,"labelExpr":"toString(datum.value)"}},
  "color":{"field":"s","type":"nominal","scale":{"domain":["Total Calibrated","Experimental Data","Heating Model","Hyperelastic","HDR model"],"range":["#FF0000","#000000","#0072BD","#D95319","#EDB120"]},
   "legend":{"title":null,"orient":"top-left","offset":5,"fillColor":"white","strokeColor":"#262626","padding":4,"symbolType":"stroke","symbolSize":1936,"symbolStrokeWidth":1.8,"labelFont":"Liberation Sans","labelFontSize":16,"labelColor":"#000000","clipHeight":21,"rowPadding":0,"labelLimit":400,"labelOffset":4}},
  "strokeWidth":{"field":"s","type":"nominal","scale":{"domain":["Total Calibrated","Experimental Data","Heating Model","Hyperelastic","HDR model"],"range":[1.5,1.8,1.2,1.2,1.3]},"legend":null},
  "detail":{"field":"g"},
  "order":{"value":null}
 },
 "layer":[
  {"transform":[{"filter":"datum.s!='Heating Model'"}],"mark":{"type":"line","interpolate":"catmull-rom","clip":true}},
  {"transform":[{"filter":"datum.s=='Heating Model'"}],"mark":{"type":"line","interpolate":"linear","clip":true}}
 ]
 }],
 "resolve":{"scale":{"color":"independent","strokeWidth":"independent"},"legend":{"color":"independent"}}
}
],
"resolve":{"scale":{"color":"independent","strokeWidth":"independent"},"legend":{"color":"independent"}}
}
